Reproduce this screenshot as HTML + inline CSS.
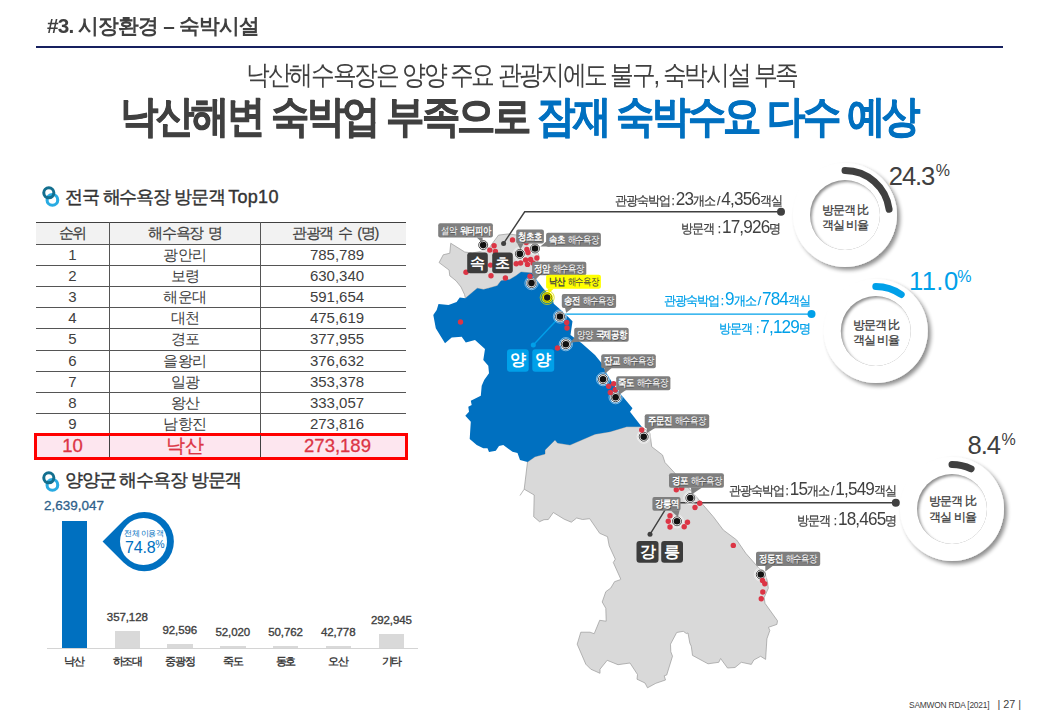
<!DOCTYPE html>
<html lang="ko">
<head>
<meta charset="utf-8">
<title>#3. 시장환경 - 숙박시설</title>
<style>
html,body{margin:0;padding:0;background:#fff;}
body{width:1040px;height:720px;position:relative;overflow:hidden;font-family:"Liberation Sans",sans-serif;color:#404040;}
.a{position:absolute;white-space:nowrap;line-height:1;}
#hdr{left:46.5px;top:15px;font-size:21px;font-weight:bold;letter-spacing:-0.8px;transform-origin:0 0;transform:scaleX(0.988);}
#hline{left:36px;top:45.6px;width:967px;height:2.1px;background:#16205f;}
#sub{left:246px;top:62px;font-size:27px;letter-spacing:-2.4px;transform-origin:0 0;transform:scaleX(0.88);}
#ttl{left:119.5px;top:94.8px;font-size:43px;font-weight:bold;letter-spacing:-3px;-webkit-text-stroke:0.7px;transform-origin:0 0;transform:scaleX(0.893);}
#ttl span{color:#0070c0;}
.sec{font-size:18px;letter-spacing:-1.15px;color:#333;-webkit-text-stroke:0.4px #333;}
#sec1{left:65px;top:188px;}
#sec2{left:65px;top:470.7px;}
/* table */
#tbl{left:36px;top:222.4px;width:370px;border-collapse:collapse;table-layout:fixed;font-size:15px;color:#404040;}
#tbl td,#tbl th{height:20.2px;padding:0;text-align:center;font-weight:normal;border-top:1px solid #555;border-right:1px solid #555;line-height:20px;}
#tbl th{background:#f2f2f2;font-size:14.5px;letter-spacing:-1.3px;word-spacing:2.5px;-webkit-text-stroke:0.2px;}
#tbl td:nth-child(2){font-size:14.5px;letter-spacing:-0.5px;}
#tbl td:nth-child(3){padding-left:7px;}
#tbl th:nth-child(3){padding-left:3px;}
#tbl td:last-child,#tbl th:last-child{border-right:none;}
#tbl tr:first-child th{border-top:1.5px solid #404040;}
#hl{left:33.8px;top:432.5px;width:367.8px;height:21.2px;border:3px solid #f00;background:#fde6ef;}
.hlt{font-size:18.5px;color:#dc3545;top:437px;text-align:center;-webkit-text-stroke:0.3px;}
/* bar chart */
.bar{background:#d9d9d9;width:25.5px;}
.val{font-size:11.5px;color:#404040;-webkit-text-stroke:0.35px;text-align:center;width:60px;letter-spacing:-0.1px;}
.cat{font-size:11px;font-weight:bold;color:#404040;text-align:center;width:60px;top:656px;letter-spacing:-1.2px;}

.lb{font-size:10.3px;color:#fff;text-align:center;letter-spacing:-0.75px;text-shadow:0.5px 0.5px 0.4px rgba(0,0,0,.35);transform:translateX(-50%) scaleX(0.84);}
.lb b{font-weight:bold;}
.lb span{font-weight:normal;}
.lb b+span,.lb span+b{margin-left:3.5px;}
.lby{color:#404040;text-shadow:none;}
.ct{color:#fff;font-weight:bold;text-align:center;}
.dn{width:70px;text-align:center;font-size:11.5px;line-height:15.6px;color:#3a3a3a;letter-spacing:-1px;-webkit-text-stroke:0.25px;}
.st{font-size:13px;color:#404040;-webkit-text-stroke:0.25px;letter-spacing:-1.3px;transform-origin:100% 0;transform:scaleX(0.927);}
.st i{font-style:normal;-webkit-text-stroke:0;font-size:18.5px;letter-spacing:-0.9px;}
.pc{font-size:25.6px;color:#404040;letter-spacing:-1.1px;}
.pc sup{font-size:16px;vertical-align:top;position:relative;top:-0.5px;left:1.6px;letter-spacing:0;}
.bl{color:#00a0e9;}
</style>
</head>
<body>
<div class="a" id="hdr">#3. 시장환경 – 숙박시설</div>
<div class="a" id="hline"></div>
<div class="a" id="sub">낙산해수욕장은 양양 주요 관광지에도 불구, 숙박시설 부족</div>
<div class="a" id="ttl">낙산해변 숙박업 부족으로 <span>잠재 숙박수요 다수 예상</span></div>

<div class="a sec" id="sec1">전국 해수욕장 방문객 <span style="letter-spacing:0.3px;">Top10</span></div>
<table class="a" id="tbl">
<colgroup><col style="width:73.5px"><col style="width:151px"><col style="width:145.5px"></colgroup>
<tr><th>순위</th><th>해수욕장 명</th><th>관광객 수 (명)</th></tr>
<tr><td>1</td><td>광안리</td><td>785,789</td></tr>
<tr><td>2</td><td>보령</td><td>630,340</td></tr>
<tr><td>3</td><td>해운대</td><td>591,654</td></tr>
<tr><td>4</td><td>대천</td><td>475,619</td></tr>
<tr><td>5</td><td>경포</td><td>377,955</td></tr>
<tr><td>6</td><td>을왕리</td><td>376,632</td></tr>
<tr><td>7</td><td>일광</td><td>353,378</td></tr>
<tr><td>8</td><td>왕산</td><td>333,057</td></tr>
<tr><td>9</td><td>남항진</td><td>273,816</td></tr>
</table>
<div class="a" id="hl"></div>
<div class="a" style="left:109px;top:435px;width:1px;height:22px;background:#404040;"></div><div class="a" style="left:260px;top:435px;width:1px;height:22px;background:#404040;"></div>
<div class="a hlt" style="left:36px;width:73px;">10</div>
<div class="a hlt" style="left:110px;width:150px;">낙산</div>
<div class="a hlt" style="left:265px;width:145px;">273,189</div>

<div class="a sec" id="sec2">양양군 해수욕장 방문객</div>
<div class="a" style="left:44px;top:499px;font-size:13.5px;color:#2e5f8a;-webkit-text-stroke:0.3px #2e5f8a;">2,639,047</div>
<div class="a" style="left:61.5px;top:521px;width:25.5px;height:127px;background:#0070c0;"></div>
<div class="a bar" style="left:114.6px;top:630.7px;height:17.5px;"></div>
<div class="a bar" style="left:167.2px;top:643.8px;height:4.4px;"></div>
<div class="a bar" style="left:220px;top:645.6px;height:2.6px;"></div>
<div class="a bar" style="left:272.8px;top:645.6px;height:2.6px;"></div>
<div class="a bar" style="left:325.5px;top:646px;height:2.2px;"></div>
<div class="a bar" style="left:378.7px;top:633.8px;height:14.4px;"></div>
<div class="a" style="left:47px;top:648px;width:371px;height:1px;background:#d4d4d4;"></div>
<div class="a val" style="left:97.3px;top:612px;">357,128</div>
<div class="a val" style="left:149.8px;top:625px;">92,596</div>
<div class="a val" style="left:202.8px;top:627px;">52,020</div>
<div class="a val" style="left:255.5px;top:627px;">50,762</div>
<div class="a val" style="left:308.2px;top:627px;">42,778</div>
<div class="a val" style="left:361.4px;top:615px;">292,945</div>
<div class="a cat" style="left:44.2px;">낙산</div>
<div class="a cat" style="left:97.3px;">하조대</div>
<div class="a cat" style="left:149.8px;">중광정</div>
<div class="a cat" style="left:202.8px;">죽도</div>
<div class="a cat" style="left:255.5px;">동호</div>
<div class="a cat" style="left:308.2px;">오산</div>
<div class="a cat" style="left:361.4px;">기타</div>


<svg class="a" style="left:36px;top:180px;" width="30" height="320" viewBox="36 180 30 320">
<g fill="none"><circle cx="52.4" cy="199.9" r="5.35" stroke="#29abe2" stroke-width="3.1"/><circle cx="48.8" cy="192.8" r="5.05" stroke="#136f8f" stroke-width="3"/>
<circle cx="52.4" cy="484.9" r="5.35" stroke="#29abe2" stroke-width="3.1"/><circle cx="48.8" cy="477.8" r="5.05" stroke="#136f8f" stroke-width="3"/></g>
</svg>
<div class="a" style="left:114.5px;top:512.2px;width:58.6px;height:58.6px;box-sizing:border-box;background:#0070c0;border-radius:50% 50% 50% 0;transform:rotate(45deg);"></div>
<div class="a" style="left:120.2px;top:517.9px;width:47.2px;height:47.2px;background:#fff;border-radius:50%;"></div>
<div class="a" style="left:114.5px;top:530px;width:58.6px;text-align:center;font-size:7.5px;color:#0070c0;letter-spacing:-0.4px;">전체 이용객</div>
<div class="a" style="left:125px;top:539.5px;font-size:16px;color:#0070c0;letter-spacing:-0.2px;">74.8<span style="font-size:10.5px;position:relative;top:-5px;letter-spacing:0;">%</span></div>
<svg class="a" style="left:0;top:0;" width="1040" height="720" viewBox="0 0 1040 720">
<defs>
<filter id="ds" x="-20%" y="-20%" width="150%" height="150%"><feGaussianBlur in="SourceAlpha" stdDeviation="2.2"/><feOffset dx="2.5" dy="2.5"/><feComponentTransfer><feFuncA type="linear" slope="0.45"/></feComponentTransfer><feMerge><feMergeNode/><feMergeNode in="SourceGraphic"/></feMerge></filter>
<radialGradient id="ig" cx="50%" cy="50%" r="50%"><stop offset="0.82" stop-color="#fff"/><stop offset="0.93" stop-color="#e8e8e8"/><stop offset="1" stop-color="#b5b5b5"/></radialGradient>
<g id="mk"><circle r="6.6" fill="none" stroke="#fff" stroke-opacity="0.7" stroke-width="0.7"/><circle r="5.6" fill="#fff"/><circle r="4.5" fill="none" stroke="#222" stroke-width="0.8"/><circle r="3.3" fill="#111"/></g>
<clipPath id="ic"><circle r="35"/></clipPath><filter id="b2" x="-20%" y="-20%" width="140%" height="140%"><feGaussianBlur stdDeviation="1.6"/></filter><g id="donut"><circle r="52" fill="#fff" filter="url(#ds)"/><g clip-path="url(#ic)"><circle r="36" fill="#8c8c8c"/><circle r="35.5" cx="2.2" cy="2.2" fill="#fff" filter="url(#b2)"/></g></g>
</defs>
<!-- Gangneung -->
<polygon id="gn" fill="#d9d9d9" stroke="#9a9a9a" stroke-width="0.7" stroke-linejoin="round" points="527.5,462 535,456.7 545,454 545,450 555,440 557.5,443 570,445 595,434.2 610,431.7 626.7,426.7 641.7,426.7 650,433.3 651.7,446.7 662.5,455 665,462.5 675,473.3 695,495 701.7,503.3 713.3,516.7 723.3,530 736.7,540 745.8,553.3 758.3,567.5 765,573.3 767.5,581.7 768.3,588.3 764.2,597.5 765,603.3 777.5,620.8 776.9,624.4 768.5,627.3 769.8,630.6 766.9,638.8 765.6,659.4 760.6,656.3 753.8,660 751.3,664.4 741.3,662.3 735,667.5 727.5,668 720.6,658.5 718.8,662.3 708,663.8 692.5,655.4 691.3,646.3 689.8,643 688,633 686.3,633.5 683.3,631.3 676.7,632.5 670.5,644.2 670.8,651.7 672.5,656.2 666.7,675 664.2,675.8 665.5,680 655.8,683.3 647.5,687.8 645,683 637,679.2 637.5,674.5 630,663 618,664.7 607.2,660.3 600,669.2 600,673.3 590.8,669.2 585.8,664.2 577.2,644.2 580.8,632.2 590,632.2 594.2,633.7 599.7,620.3 606.2,621.2 605.8,608.3 602.2,602 605.8,591.7 610.8,588 614.5,581.7 620.3,579.7 620.8,579.2 613.3,562.5 615.3,559.2 609.2,545.8 607.5,536.7 599.7,533.3 589.7,518.7 582.5,519.5 576.7,518 571.3,522.2 564.2,519.2 553.3,512.5 548.3,519.5 544,519.7 539.5,521.7 533.7,516.7 534.2,495 524.2,489.2"/>
<polyline fill="none" stroke="#9a9a9a" stroke-width="0.7" points="524.2,489.2 520,495.5"/>
<!-- Sokcho -->
<polygon id="sc" fill="#d9d9d9" stroke="#9a9a9a" stroke-width="0.7" stroke-linejoin="round" points="450.75,243.25 464.75,252 472.25,253 481,251.4 489.75,247 498.5,235.1 508.5,233.9 520,235.5 530,240 536.5,247 539,256 537.5,263 534.5,268.5 532.25,273 521,272 516,275.75 509.75,279.5 501,280.75 497.25,285.75 488.5,288.25 483.5,289.5 477.25,288.25 465.4,298.25 464.5,294.5 461,287 456,280.75 449.75,275.75 449.1,270.1 439.1,262.6 443.25,254.75 449.75,253.25"/>
<!-- Yangyang -->
<polygon id="yy" fill="#0070c0" points="465.4,298.25 477.25,288.25 483.5,289.5 488.5,288.25 497.25,285.75 501,280.75 509.75,279.5 516,275.75 521,272 532.25,273 536.9,280 542.5,287.5 552.5,298.75 553.75,303.75 563.75,312.5 572.5,321.25 570.5,335 581.7,343.3 595,355 601.7,363.3 606.7,373.3 611.7,381.7 620,393.3 632.5,408.3 630,411.7 641.7,426.7 626.7,426.7 610,431.7 595,434.2 570,445 557.5,443 555,440 545,450 545,454 535,456.7 527.5,462 520,460 517.5,453 512.5,451.7 503.3,445 499,446 495.8,450.8 489,452 487.5,448.3 483.3,448.3 476.7,445 469.7,439 470.8,421.7 465.3,415.8 469,411.7 468.3,406.7 471.7,405 470.8,400.8 480.8,395.8 481.7,385.8 484.2,380 489,373.3 488.3,365.8 483.3,360 485,349 475,340 465.8,342.5 461.7,336.7 451.7,337.5 445,343.3 435.8,328.3 433.3,315 436.7,310 438.5,303.9 448.5,305.1 456.6,302 459.75,297.6"/>
</svg>

<svg class="a" style="left:0;top:0;" width="1040" height="720" viewBox="0 0 1040 720">
<g fill="none" stroke-width="1.4">
<polyline stroke="#404040" points="503.6,243.4 524.7,211.8 781,211.8"/>
<polyline stroke="#404040" points="650,534.3 669.5,502.8 895.8,502.8"/>
<polyline stroke="#00a0e9" points="533.3,345 560,316.5"/>
<polyline stroke="#00a0e9" points="560,314.1 811.5,314.1"/>
</g>
<circle cx="503.6" cy="243.4" r="2.5" fill="#404040"/><circle cx="781" cy="211.8" r="4" fill="#404040"/>
<circle cx="650" cy="534.3" r="2.5" fill="#404040"/><circle cx="895.8" cy="502.8" r="4" fill="#404040"/>
<circle cx="533.3" cy="345" r="2.5" fill="#00a0e9"/><circle cx="811.5" cy="314.1" r="4" fill="#00a0e9"/>
<use href="#mk" x="483.2" y="245.1"/><use href="#mk" x="519.8" y="253.9"/><use href="#mk" x="535.0" y="248.5"/><use href="#mk" x="531.5" y="283.1"/><use href="#mk" x="560.0" y="316.5"/><use href="#mk" x="565.8" y="344.2"/><use href="#mk" x="603.0" y="379.2"/><use href="#mk" x="615.6" y="397.2"/><use href="#mk" x="643.7" y="436.7"/><use href="#mk" x="690.3" y="498.0"/><use href="#mk" x="677.0" y="521.3"/><use href="#mk" x="760.8" y="574.5"/>
<g transform="translate(547.2,297.5)"><circle r="7" fill="none" stroke="#d8d800" stroke-width="0.8"/><circle r="5.7" fill="#ffff00"/><circle r="4.6" fill="none" stroke="#555500" stroke-width="0.7"/><circle r="3.2" fill="#1a1a1a"/></g>
<g fill="#dc3545"><circle cx="466.0" cy="272.2" r="2.7"/><circle cx="490.6" cy="265.1" r="2.7"/><circle cx="491.0" cy="275.8" r="2.7"/><circle cx="505.4" cy="278.0" r="2.7"/><circle cx="494.1" cy="245.8" r="2.7"/><circle cx="489.8" cy="250.1" r="2.7"/><circle cx="495.4" cy="251.4" r="2.7"/><circle cx="512.5" cy="239.9" r="2.7"/><circle cx="526.2" cy="242.5" r="2.7"/><circle cx="526.9" cy="249.4" r="2.7"/><circle cx="528.0" cy="252.5" r="2.7"/><circle cx="536.9" cy="258.0" r="2.7"/><circle cx="530.6" cy="259.4" r="2.7"/><circle cx="525.6" cy="260.0" r="2.7"/><circle cx="527.5" cy="264.4" r="2.7"/><circle cx="533.0" cy="263.0" r="2.7"/><circle cx="520.6" cy="263.0" r="2.7"/><circle cx="516.2" cy="263.8" r="2.7"/><circle cx="530.0" cy="276.2" r="2.7"/><circle cx="460.5" cy="322.0" r="2.7"/><circle cx="566.7" cy="322.5" r="2.7"/><circle cx="567.0" cy="328.0" r="2.7"/><circle cx="557.5" cy="348.0" r="2.7"/><circle cx="608.7" cy="386.2" r="2.7"/><circle cx="613.7" cy="383.7" r="2.7"/><circle cx="615.3" cy="389.7" r="2.7"/><circle cx="610.3" cy="392.5" r="2.7"/><circle cx="641.7" cy="430.0" r="2.7"/><circle cx="676.3" cy="489.7" r="2.7"/><circle cx="681.7" cy="488.3" r="2.7"/><circle cx="699.7" cy="503.3" r="2.7"/><circle cx="695.0" cy="507.5" r="2.7"/><circle cx="670.0" cy="515.8" r="2.7"/><circle cx="668.3" cy="521.3" r="2.7"/><circle cx="670.0" cy="527.0" r="2.7"/><circle cx="684.2" cy="526.7" r="2.7"/><circle cx="687.5" cy="522.2" r="2.7"/><circle cx="733.3" cy="545.4" r="2.7"/><circle cx="762.5" cy="580.5" r="2.7"/><circle cx="764.7" cy="583.7" r="2.7"/><circle cx="762.8" cy="592.0" r="2.7"/><circle cx="761.3" cy="598.8" r="2.7"/></g>
<rect x="438.2" y="223.2" width="54.7" height="14.4" rx="2" fill="#7f7f7f"/><polygon points="476.8,237.4 482.6,237.4 482.6,243.0" fill="#7f7f7f"/>
<rect x="516.2" y="229.5" width="27.7" height="13.9" rx="2" fill="#7f7f7f"/><polygon points="517.2,243.2 523.8,243.2 520.5,249.5" fill="#7f7f7f"/>
<rect x="546.1" y="232.7" width="54.8" height="14.0" rx="2" fill="#7f7f7f"/><polygon points="546.3,241.5 550.0,246.5 540.3,246.6" fill="#7f7f7f"/>
<rect x="532.1" y="261.8" width="54.2" height="13.4" rx="2" fill="#7f7f7f"/><polygon points="533.1,275.0 540.0,275.0 535.0,280.3" fill="#7f7f7f"/>
<rect x="546.1" y="274.7" width="54.8" height="14.0" rx="2" fill="#ffff00"/><polygon points="547.5,288.5 553.9,288.5 549.0,293.0" fill="#ffff00"/>
<rect x="561.8" y="293.9" width="54.3" height="14.0" rx="2" fill="#7f7f7f"/><polygon points="565.0,307.7 572.5,307.7 566.2,312.8" fill="#7f7f7f"/>
<rect x="574.2" y="327.8" width="54.5" height="13.9" rx="2" fill="#7f7f7f"/><polygon points="574.4,337.5 579.4,341.5 570.3,342.8" fill="#7f7f7f"/>
<rect x="601.2" y="354.2" width="54.6" height="14.0" rx="2" fill="#7f7f7f"/><polygon points="604.4,368.0 611.6,368.0 604.9,373.8" fill="#7f7f7f"/>
<rect x="616.2" y="376.2" width="54.2" height="14.0" rx="2" fill="#7f7f7f"/><polygon points="618.8,390.0 626.0,390.0 618.8,395.0" fill="#7f7f7f"/>
<rect x="644.7" y="414.2" width="64.5" height="14.1" rx="2" fill="#7f7f7f"/><polygon points="646.7,428.1 655.0,428.1 646.7,433.3" fill="#7f7f7f"/>
<rect x="669.0" y="473.2" width="54.9" height="14.5" rx="2" fill="#7f7f7f"/><polygon points="690.9,487.5 702.1,487.5 691.7,494.4" fill="#7f7f7f"/>
<rect x="652.4" y="497.0" width="28.1" height="13.7" rx="2" fill="#7f7f7f"/><polygon points="671.0,510.5 679.6,510.5 677.9,516.9" fill="#7f7f7f"/>
<rect x="756.0" y="551.7" width="64.2" height="14.3" rx="2" fill="#7f7f7f"/><polygon points="765.3,565.8 773.0,565.8 765.3,571.5" fill="#7f7f7f"/>
<rect x="467.2" y="252.6" width="20.6" height="20.6" rx="3" fill="#3c3c3c"/>
<rect x="492.2" y="252.6" width="20.6" height="20.6" rx="3" fill="#3c3c3c"/>
<rect x="507.0" y="349.2" width="21.7" height="22.5" rx="3" fill="#00a0e9"/>
<rect x="532.3" y="349.2" width="21.9" height="22.5" rx="3" fill="#00a0e9"/>
<rect x="636.5" y="540.9" width="22.0" height="21.8" rx="3" fill="#3c3c3c"/>
<rect x="661.2" y="540.9" width="21.8" height="21.8" rx="3" fill="#3c3c3c"/>
<use href="#donut" x="845.0" y="215.0"/><path d="M845.0,170.5 A44.5,44.5 0 0 1 889.1,209.3" fill="none" stroke="#404040" stroke-width="7" stroke-linecap="round"/>
<use href="#donut" x="875.8" y="331.0"/><path d="M875.8,286.5 A44.5,44.5 0 0 1 901.2,294.5" fill="none" stroke="#00a0e9" stroke-width="7" stroke-linecap="round"/>
<use href="#donut" x="952.0" y="509.0"/><path d="M952.0,464.5 A44.5,44.5 0 0 1 971.1,468.8" fill="none" stroke="#404040" stroke-width="7" stroke-linecap="round"/>
</svg>
<div class="a lb" style="left:465.5px;top:223.2px;height:14.4px;line-height:15.0px;"><span>설악</span><b>워터피아</b></div>
<div class="a lb" style="left:530.0px;top:229.5px;height:13.9px;line-height:14.5px;"><b>청초호</b></div>
<div class="a lb" style="left:573.5px;top:232.7px;height:14.0px;line-height:14.6px;"><b>속초</b><span>해수욕장</span></div>
<div class="a lb" style="left:559.2px;top:261.8px;height:13.4px;line-height:14.0px;"><b>정암</b><span>해수욕장</span></div>
<div class="a lb lby" style="left:573.5px;top:274.7px;height:14.0px;line-height:14.6px;"><b>낙산</b><span>해수욕장</span></div>
<div class="a lb" style="left:589.0px;top:293.9px;height:14.0px;line-height:14.6px;"><b>송전</b><span>해수욕장</span></div>
<div class="a lb" style="left:601.5px;top:327.8px;height:13.9px;line-height:14.5px;"><span>양양</span><b>국제공항</b></div>
<div class="a lb" style="left:628.5px;top:354.2px;height:14.0px;line-height:14.6px;"><b>잔교</b><span>해수욕장</span></div>
<div class="a lb" style="left:643.3px;top:376.2px;height:14.0px;line-height:14.6px;"><b>죽도</b><span>해수욕장</span></div>
<div class="a lb" style="left:677.0px;top:414.2px;height:14.1px;line-height:14.7px;"><b>주문진</b><span>해수욕장</span></div>
<div class="a lb" style="left:696.5px;top:473.2px;height:14.5px;line-height:15.1px;"><b>경포</b><span>해수욕장</span></div>
<div class="a lb" style="left:666.5px;top:497.0px;height:13.7px;line-height:14.3px;"><b>강릉역</b></div>
<div class="a lb" style="left:788.1px;top:551.7px;height:14.3px;line-height:14.9px;"><b>정동진</b><span>해수욕장</span></div>
<div class="a ct" style="left:467.2px;top:252.6px;width:20.6px;height:20.6px;line-height:20.6px;font-size:15px;">속</div>
<div class="a ct" style="left:492.2px;top:252.6px;width:20.6px;height:20.6px;line-height:20.6px;font-size:15px;">초</div>
<div class="a ct" style="left:507.0px;top:349.2px;width:21.7px;height:22.5px;line-height:22.5px;font-size:16px;">양</div>
<div class="a ct" style="left:532.3px;top:349.2px;width:21.9px;height:22.5px;line-height:22.5px;font-size:16px;">양</div>
<div class="a ct" style="left:636.5px;top:540.9px;width:22.0px;height:21.8px;line-height:21.8px;font-size:16px;">강</div>
<div class="a ct" style="left:661.2px;top:540.9px;width:21.8px;height:21.8px;line-height:21.8px;font-size:16px;">릉</div>
<div class="a dn" style="left:810.0px;top:202.6px;">방문객 比<br>객실 비율</div>
<div class="a dn" style="left:840.8px;top:317.9px;">방문객 比<br>객실 비율</div>
<div class="a dn" style="left:917.5px;top:494px;">방문객 比<br>객실 비율</div>

<div class="a st" style="right:258.3px;top:189.5px;">관광숙박업 : <i>23</i>개소 / <i>4,356</i>객실</div>
<div class="a st" style="right:259.6px;top:217.5px;">방문객 &nbsp;: <i>17,926</i>명</div>
<div class="a st bl" style="right:230.6px;top:289.5px;">관광숙박업 : <i>9</i>개소 / <i>784</i>객실</div>
<div class="a st bl" style="right:229.8px;top:317.5px;">방문객 &nbsp;: <i>7,129</i>명</div>
<div class="a st" style="right:144.2px;top:479.5px;">관광숙박업 : <i>15</i>개소 / <i>1,549</i>객실</div>
<div class="a st" style="right:144.2px;top:510.0px;">방문객 &nbsp;: <i>18,465</i>명</div>
<div class="a pc" style="left:888.8px;top:163.6px;">24.3<sup>%</sup></div>
<div class="a pc bl" style="left:909px;top:269px;letter-spacing:0.4px;">11.0<sup style="left:-1.2px">%</sup></div>
<div class="a pc" style="left:967.5px;top:432.5px;">8.4<sup>%</sup></div>

<div class="a" id="ft1" style="left:909px;top:700.6px;font-size:8.4px;color:#404040;letter-spacing:-0.2px;">SAMWON RDA [2021]</div>
<div class="a" id="ft2" style="left:997.5px;top:698.6px;font-size:10.8px;color:#404040;">| 27 |</div>
</body>
</html>
